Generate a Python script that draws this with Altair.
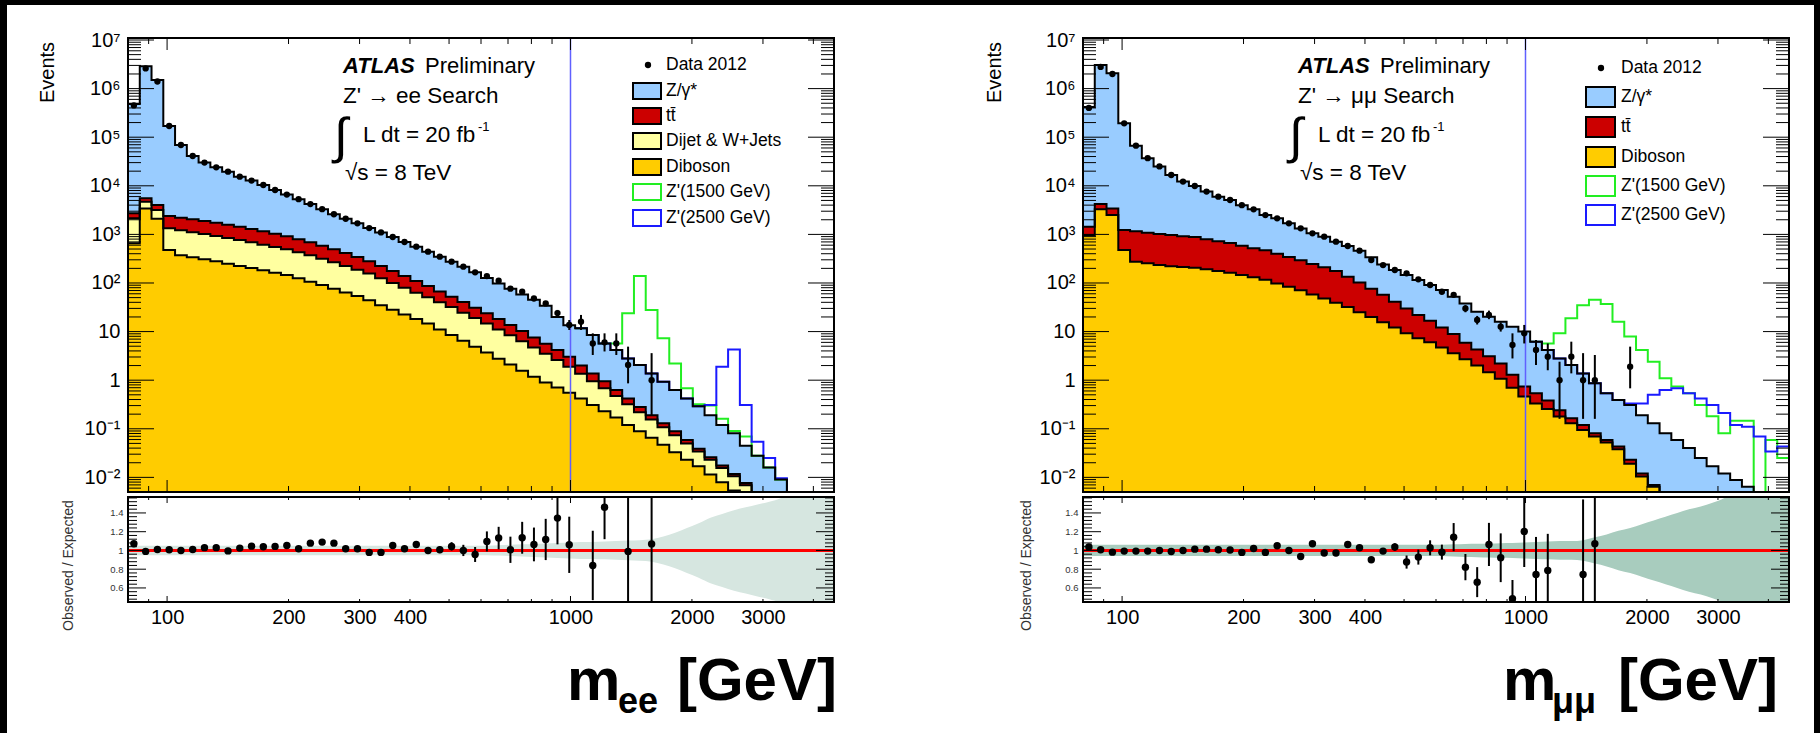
import math
import altair as alt
import pandas as pd

# ---------------- binning (60 log-uniform bins, 80-4500 GeV) ----------------
bin_edges = [80.0, 85.56, 91.50, 97.86, 104.65, 111.92, 119.70, 128.01, 136.91, 146.42,
             156.59, 167.47, 179.10, 191.54, 204.85, 219.08, 234.30, 250.58, 267.99, 286.61,
             306.52, 327.81, 350.58, 374.94, 400.99, 428.84, 458.63, 490.50, 524.57, 561.01,
             600.0, 641.7, 686.3, 733.9, 784.9, 839.4, 897.7, 960.1, 1026.8, 1098.1,
             1174.4, 1256.0, 1343.2, 1436.6, 1536.4, 1643.1, 1757.3, 1879.4, 2009.9, 2149.6,
             2298.9, 2458.6, 2629.4, 2812.1, 3007.4, 3216.3, 3439.8, 3678.8, 3934.4, 4207.7,
             4500.0]

# ---------------- ee channel (stack boundaries) ----------------
ee_total = [4.8e5, 2.9e6, 1.5e6, 1.7e5, 6.9e4, 4.1e4, 3.0e4, 2.4e4, 1.95e4, 1.54e4,
            1.28e4, 1.04e4, 8.2e3, 6.6e3, 5.3e3, 4.2e3, 3.3e3, 2.6e3, 2.1e3, 1.69e3,
            1350, 1100, 883, 697, 558, 441, 348, 275, 217, 166,
            127, 98, 76, 58, 45, 34, 20, 13.5, 11.7, 8.5,
            5.7, 4.2, 2.8, 2.05, 1.38, 0.93, 0.63, 0.42, 0.29, 0.19,
            0.12, 0.081, 0.045, 0.028, 0.016, 0.009, 0.004, 0.003, 0.002, 0.0015]
ee_ttbar_top = [2710, 5520, 4030, 2390, 2210, 2040, 1885, 1742, 1585, 1442,
                1291, 1156, 1035, 912, 791, 687, 586, 493, 414, 343,
                279, 224, 177, 139, 110, 87, 67, 52, 40.6, 31.1,
                23.8, 18.2, 13.7, 10.3, 7.6, 5.6, 4.2, 3.05, 2.0, 1.38,
                0.95, 0.63, 0.42, 0.28, 0.19, 0.13, 0.089, 0.059, 0.039, 0.026,
                0.0175, 0.0118, 0.0077, 0.005, 0.0033, 0.0022, 0.0015, 0.001, 0.0007, 0.0005]
ee_dijet_top = [2140, 4710, 3170, 1333, 1212, 1103, 1019, 927, 844, 768,
                687, 615, 551, 493, 428, 371, 317, 266, 224, 188,
                156, 125, 100, 80, 63, 51, 40, 32, 24.5, 19.0,
                14.6, 11.1, 8.4, 6.3, 4.7, 3.5, 2.6, 1.9, 1.35, 0.95,
                0.68, 0.47, 0.32, 0.22, 0.155, 0.107, 0.074, 0.050, 0.034, 0.023,
                0.0155, 0.0105, 0.0069, 0.0046, 0.003, 0.002, 0.0014, 0.001, 0.0007, 0.0005]
ee_diboson_top = [656, 3400, 2100, 477, 371, 337, 307, 279, 250, 224,
                  204, 182, 163, 146, 125, 106, 91, 76, 64, 54,
                  44, 35, 28, 22.6, 18.2, 14.6, 11.1, 8.5, 6.5, 4.9,
                  3.7, 2.77, 2.09, 1.57, 1.18, 0.90, 0.71, 0.55, 0.42, 0.31,
                  0.23, 0.17, 0.12, 0.089, 0.065, 0.047, 0.033, 0.023, 0.017, 0.0115,
                  0.0079, 0.0054, 0.0035, 0.0024, 0.0016, 0.0011, 0.0008, 0.0006, 0.0004, 0.0003]
ee_data = [4.5e5, 2.6e6, 1.4e6, 1.7e5, 6.9e4, 4.1e4, 3.0e4, 2.4e4, 1.95e4, 1.54e4,
           1.28e4, 1.04e4, 8.2e3, 6.6e3, 5.3e3, 4.2e3, 3.3e3, 2.6e3, 2.1e3, 1.69e3,
           1350, 1100, 883, 697, 558, 441, 348, 275, 217, 166,
           139, 111, 76.5, 66, 48, 38, 24, 13.7, 16, 5.7,
           6.0, 5.7, 2.05, None, 1.0, None, None, None, None, None,
           None, None, None, None, None, None, None, None, None, None]
ee_err_bins = [36, 37, 38, 39, 40, 41, 42, 44]
ee_err_lo = [19.7, 10.8, 10.8, 3.3, 3.9, 3.3, 0.86, 0.19]
ee_err_hi = [27.9, 17.3, 22.0, 9.2, 9.2, 9.2, 4.9, 3.6]
sig_start = 38
ee_z1500 = [11.7, 8.5, 5.7, 5.7, 23.8, 139, 27.8, 7.3, 2.2, 0.68, 0.32, 0.30, 0.16, 0.09,
            0.069, 0.028, 0.016, 0.009, 0.004, 0.003, 0.002, 0.0015]
ee_z2500 = [11.7, 8.5, 5.7, 4.2, 2.8, 2.05, 1.38, 0.93, 0.63, 0.42, 0.29, 0.31, 1.9, 4.3,
            0.31, 0.054, 0.025, 0.0096, 0.004, 0.003, 0.002, 0.0015]
ee_ratio_bins = list(range(38)) + [39, 40, 42, 44]
ee_ratio = [1.071, 0.99, 1.01, 1.007, 1.0, 1.01, 1.03, 1.03, 0.995, 1.025,
            1.046, 1.04, 1.043, 1.053, 1.018, 1.078, 1.089, 1.078, 1.018, 1.018,
            0.979, 0.979, 1.053, 1.018, 1.064, 1.0, 1.007, 1.043, 1.0, 0.957,
            1.096, 1.132, 1.007, 1.135, 1.064, 1.117, 1.345, 1.06,
            0.84, 1.46, 0.99, 1.07]
ee_ratio_err = [0.012, 0.012, 0.012, 0.012, 0.012, 0.012, 0.012, 0.012, 0.012, 0.012,
                0.012, 0.012, 0.012, 0.012, 0.012, 0.012, 0.012, 0.012, 0.012, 0.012,
                0.02, 0.02, 0.02, 0.02, 0.025, 0.03, 0.035, 0.045, 0.06, 0.08,
                0.107, 0.12, 0.14, 0.17, 0.18, 0.22, 0.28, 0.30,
                0.37, 0.34, 0.9, 0.9]
ee_band = [0.05, 0.05, 0.05, 0.05, 0.05, 0.05, 0.05, 0.05, 0.05, 0.05,
           0.05, 0.05, 0.05, 0.05, 0.05, 0.05, 0.05, 0.05, 0.05, 0.05,
           0.05, 0.05, 0.05, 0.05, 0.05, 0.05, 0.05, 0.05, 0.05, 0.05,
           0.05, 0.055, 0.06, 0.065, 0.07, 0.075, 0.08, 0.085, 0.09, 0.09,
           0.095, 0.10, 0.105, 0.11, 0.12, 0.15, 0.19, 0.24, 0.29, 0.35,
           0.39, 0.43, 0.46, 0.49, 0.52, 0.56, 0.65, 0.65, 0.65, 0.65]

# ---------------- mumu channel ----------------
mm_total = [4.2e5, 3.06e6, 2.06e6, 1.93e5, 6.7e4, 3.7e4, 2.5e4, 1.67e4, 1.22e4, 9.9e3,
            7.6e3, 5.97e3, 5.1e3, 4.0e3, 3.28e3, 2.5e3, 2.14e3, 1.69e3, 1.33e3, 1.05e3,
            898, 709, 577, 462, 340, 240, 185, 146, 115, 91,
            72, 52, 38, 25.7, 20.3, 16, 12.6, 10, 6.2, 4.2,
            2.8, 2.05, 1.38, 0.86, 0.54, 0.39, 0.31, 0.19, 0.13, 0.081,
            0.059, 0.040, 0.025, 0.017, 0.012, 0.0088, 0.0064, 0.0045, 0.003, 0.002]
mm_ttbar_top = [1440, 4200, 3400, 1230, 1157, 1086, 1019, 972, 912, 885,
                792, 720, 665, 586, 516, 470, 402, 343, 292, 246,
                210, 177, 135, 102, 76, 57, 41, 30, 22, 16.8,
                12.1, 8.9, 5.9, 4.3, 3.1, 2.2, 1.30, 0.74, 0.54, 0.38,
                0.24, 0.164, 0.12, 0.081, 0.059, 0.043, 0.023, 0.012, 0.007, 0.0045,
                0.003, 0.002, 0.0014, 0.001, 0.0007, 0.0005, 0.0004, 0.0003, 0.0002, 0.0002]
mm_diboson_top = [973, 3300, 2500, 477, 275, 254, 234, 221, 213, 207,
                  191, 177, 163, 146, 131, 117, 98, 84, 71, 58,
                  48, 39, 32, 25, 20, 15.5, 12.1, 9.2, 7.3, 6.0,
                  4.7, 3.6, 2.7, 2.0, 1.45, 1.07, 0.70, 0.46, 0.33, 0.255,
                  0.178, 0.13, 0.094, 0.069, 0.052, 0.038, 0.019, 0.0104, 0.0064, 0.004,
                  0.0027, 0.0018, 0.0012, 0.0008, 0.0006, 0.0004, 0.0003, 0.0002, 0.0002, 0.0001]
mm_data = [4.0e5, 2.8e6, 2.0e6, 1.93e5, 6.7e4, 3.7e4, 2.5e4, 1.67e4, 1.22e4, 9.9e3,
           7.6e3, 5.97e3, 5.1e3, 4.0e3, 3.28e3, 2.5e3, 2.14e3, 1.69e3, 1.33e3, 1.05e3,
           898, 709, 577, 462, 297, 234, 185, 158, 119, 91,
           66, 57, 30, 17.3, 22, 12.6, 5.3, 9.2, 4.2, 3.05,
           1.0, 3.05, 1.0, 1.0, None, None, 1.9, None, None, None,
           None, None, None, None, None, None, None, None, None, None]
mm_err_bins = [32, 33, 34, 35, 36, 37, 38, 39, 40, 41, 42, 43, 46]
mm_err_lo = [25, 14, 18, 10, 2.8, 5.7, 2.05, 1.6, 0.16, 1.38, 0.16, 0.16, 0.68]
mm_err_hi = [35, 21, 27, 15.5, 9.2, 13.7, 6.7, 5.7, 2.4, 6.2, 3.6, 3.3, 4.9]
mm_z1500 = [6.2, 5.7, 9.2, 18.7, 35, 45, 37, 16, 7.9, 4.2, 2.4, 1.09, 0.74, 0.54,
            0.31, 0.18, 0.081, 0.147, 0.147, 0.003, 0.059, 0.025]
mm_z2500 = [6.2, 4.2, 2.8, 2.05, 1.38, 0.86, 0.54, 0.39, 0.33, 0.33, 0.50, 0.63, 0.68, 0.54,
            0.42, 0.31, 0.21, 0.12, 0.11, 0.069, 0.034, 0.043]
mm_ratio_bins = list(range(40)) + [42, 43]
mm_ratio = [1.036, 1.007, 0.982, 0.993, 0.993, 0.993, 1.0, 0.989, 1.0, 1.014,
            1.014, 1.007, 1.004, 0.979, 1.021, 0.979, 1.05, 1.0, 0.936, 1.071,
            0.972, 0.972, 1.064, 1.028, 0.90, 0.993, 1.036, 0.876, 0.929, 1.028,
            0.982, 1.142, 0.822, 0.662, 1.064, 0.922, 0.485, 1.203, 0.744, 0.787,
            0.744, 1.071]
mm_ratio_err = [0.012, 0.012, 0.012, 0.012, 0.012, 0.012, 0.012, 0.012, 0.012, 0.012,
                0.012, 0.012, 0.012, 0.012, 0.012, 0.012, 0.012, 0.012, 0.012, 0.012,
                0.012, 0.02, 0.02, 0.02, 0.03, 0.03, 0.04, 0.07, 0.08, 0.08,
                0.08, 0.15, 0.14, 0.16, 0.23, 0.26, 0.2, 0.38, 0.4, 0.39,
                0.8, 0.9]
mm_band = [0.06, 0.06, 0.06, 0.06, 0.06, 0.06, 0.06, 0.06, 0.06, 0.06,
           0.06, 0.06, 0.06, 0.06, 0.06, 0.06, 0.06, 0.06, 0.06, 0.06,
           0.06, 0.06, 0.06, 0.06, 0.06, 0.06, 0.06, 0.06, 0.06, 0.06,
           0.06, 0.065, 0.07, 0.072, 0.075, 0.078, 0.08, 0.085, 0.09, 0.095,
           0.10, 0.10, 0.11, 0.14, 0.17, 0.21, 0.24, 0.28, 0.32, 0.36,
           0.40, 0.44, 0.47, 0.51, 0.56, 0.65, 0.65, 0.65, 0.65, 0.65]

# ---------------- axis ticks / labels ----------------
y_tick_values = [0.01, 0.1, 1, 10, 100, 1e3, 1e4, 1e5, 1e6, 1e7]
y_tick_labels = ["10\u207b\u00b2", "10\u207b\u00b9", "1", "10", "10\u00b2", "10\u00b3",
                 "10\u2074", "10\u2075", "10\u2076", "10\u2077"]
y_minor = [k * 10.0 ** d for d in range(-3, 7) for k in range(2, 10) if 0.0051 < k * 10.0 ** d < 1.1e7]
x_label_values = [100, 200, 300, 400, 1000, 2000, 3000]
x_major = [100, 1000]
x_minor = [90, 200, 300, 400, 500, 600, 700, 800, 900, 2000, 3000, 4000]
r_major = [0.6, 0.8, 1.0, 1.2, 1.4]
r_minor = [0.48, 0.52, 0.56, 0.64, 0.68, 0.72, 0.76, 0.84, 0.88, 0.92, 0.96, 1.04, 1.08,
           1.12, 1.16, 1.24, 1.28, 1.32, 1.36, 1.44, 1.48, 1.52, 1.56]

W, HM, HR = 706, 454, 105
FONT = "Liberation Sans"
C_DY, C_TT, C_DJ, C_DB = "#99ccff", "#cc0000", "#ffffa0", "#ffcc00"
C_G, C_B = "#22ee22", "#1a1aff"

centers = [math.sqrt(bin_edges[i] * bin_edges[i + 1]) for i in range(60)]

x_scale = alt.Scale(type="log", domain=[80, 4500], nice=False)
y_scale = alt.Scale(type="log", domain=[0.005, 1.1e7], nice=False)
r_scale = alt.Scale(type="linear", domain=[0.45, 1.57], nice=False, zero=False)

one = pd.DataFrame({"a": [0]})


def step_frame(vals, start=0):
    xs = bin_edges[start:]
    ys = list(vals) + [vals[-1]]
    return pd.DataFrame({"x": xs, "y": ys, "base": [1e-6] * len(xs)})


def vtext(s, x, y, size, weight="normal", style="normal", align="left",
          baseline="alphabetic", color="black"):
    return alt.Chart(one).mark_text(text=s, fontSize=size, fontWeight=weight, fontStyle=style,
                                    align=align, baseline=baseline, color=color, font=FONT
                                    ).encode(x=alt.value(x), y=alt.value(y))


lab_expr = "[" + ",".join("'%s'" % s for s in y_tick_labels) + "][round(log(datum.value)/LN10)+2]"


def main_axis(tx):
    return alt.Axis(values=y_tick_values, labelExpr=lab_expr, ticks=False, domain=False, grid=False,
                    labelFontSize=20, labelPadding=8, labelColor="black", labelFlush=False,
                    labelOverlap=False, title="Events", titleFontSize=20, titleFontWeight="normal",
                    titleColor="black", titleAngle=270, titleX=tx, titleY=34, titleAlign="center",
                    titleBaseline="middle", zindex=1)


def ratio_axis(tx):
    return alt.Axis(values=r_major, labelExpr="datum.value == 1 ? '1' : format(datum.value, '.1f')",
                    ticks=False, domain=False, grid=False, labelFontSize=9.5, labelPadding=5,
                    labelColor="#333333", labelFlush=False, labelOverlap=False,
                    title="Observed / Expected", titleFontSize=14, titleFontWeight="normal",
                    titleColor="#333333", titleAngle=270, titleX=tx, titleY=68, titleAlign="center",
                    titleBaseline="middle", zindex=1)


ratio_x_axis = alt.Axis(values=x_label_values, format="d", ticks=False, domain=False, grid=False,
                        labelFontSize=20, labelPadding=5, labelColor="black", labelFlush=False,
                        labelOverlap=False, title=None, zindex=1)


def frame(h):
    return alt.Chart(one).mark_rect(fillOpacity=0, stroke="black", strokeWidth=2).encode(
        x=alt.value(0), x2=alt.value(W), y=alt.value(0), y2=alt.value(h))


def y_ticks(vals, length, right, ych):
    x0 = W - length if right else 0
    return alt.Chart(pd.DataFrame({"v": vals})).mark_rule(color="black", strokeWidth=1).encode(
        y=ych("v"), x=alt.value(x0), x2=alt.value(x0 + length))


def x_ticks(vals, length, bottom, h, xaxis):
    y0 = h - length if bottom else 0
    return alt.Chart(pd.DataFrame({"v": vals})).mark_rule(color="black", strokeWidth=1).encode(
        x=alt.X("v", type="quantitative", scale=x_scale, axis=xaxis),
        y=alt.value(y0), y2=alt.value(y0 + length))


def main_panel(c):
    X = alt.X("x", type="quantitative", scale=x_scale, axis=None)
    yax = main_axis(c["events_x"])

    def Y(f):
        return alt.Y(f, type="quantitative", scale=y_scale, axis=yax)

    layers = []
    if c["backdrop"]:
        layers.append(alt.Chart(one).mark_rect(color="white").encode(
            x=alt.value(-121), x2=alt.value(1686), y=alt.value(-33), y2=alt.value(695)))
    for vals, col in c["fills"]:
        layers.append(alt.Chart(step_frame(vals)).mark_area(
            interpolate="step-after", color=col, opacity=1, clip=True).encode(
            x=X, y=Y("y"), y2=alt.Y2("base")))
    for vals, col in c["signals"]:
        layers.append(alt.Chart(step_frame(vals, sig_start)).mark_line(
            interpolate="step-after", color=col, strokeWidth=2, clip=True).encode(x=X, y=Y("y")))
    for vals in c["outlines"]:
        layers.append(alt.Chart(step_frame(vals)).mark_line(
            interpolate="step-after", color="black", strokeWidth=2, clip=True).encode(x=X, y=Y("y")))
    layers.append(alt.Chart(pd.DataFrame({"x": [1000]})).mark_rule(
        color="#6060ff", strokeWidth=1.5).encode(x=X))
    eb = pd.DataFrame({"x": [centers[b] for b in c["err_bins"]], "lo": c["err_lo"], "hi": c["err_hi"]})
    layers.append(alt.Chart(eb).mark_rule(color="black", strokeWidth=2, clip=True).encode(
        x=X, y=Y("lo"), y2=alt.Y2("hi")))
    pts = pd.DataFrame({"x": [centers[i] for i, v in enumerate(c["data"]) if v is not None],
                        "y": [v for v in c["data"] if v is not None]})
    layers.append(alt.Chart(pts).mark_point(shape="circle", filled=True, size=40, color="black",
                                            opacity=1, clip=True).encode(x=X, y=Y("y")))
    layers.append(frame(HM))
    layers += [y_ticks(y_tick_values, 26, False, Y), y_ticks(y_minor, 13, False, Y),
               y_ticks(y_tick_values, 26, True, Y), y_ticks(y_minor, 13, True, Y),
               x_ticks(x_major, 12, False, HM, None), x_ticks(x_minor, 6, False, HM, None),
               x_ticks(x_major, 12, True, HM, None), x_ticks(x_minor, 6, True, HM, None)]
    # legend
    lg = c["legend"]
    px, py = lg["pt"]
    layers.append(alt.Chart(one).mark_point(shape="circle", filled=True, size=40, color="black",
                                            opacity=1).encode(x=alt.value(px), y=alt.value(py)))
    layers.append(vtext("Data 2012", lg["tx"], py, 17.5, baseline="middle"))
    for lab, yc, f, s in zip(lg["labels"], lg["rows"], lg["fills"], lg["strokes"]):
        layers.append(alt.Chart(one).mark_rect(fill=f, stroke=s, strokeWidth=2).encode(
            x=alt.value(lg["bx"][0]), x2=alt.value(lg["bx"][1]),
            y=alt.value(yc - lg["bh"] / 2), y2=alt.value(yc + lg["bh"] / 2)))
        layers.append(vtext(lab, lg["tx"], yc, 17.5, baseline="middle"))
    # ATLAS label block
    layers += [vtext("ATLAS", 215, 35, 22, weight="bold", style="italic"),
               vtext("Preliminary", 297, 35, 22),
               vtext(c["search"], 215, 65, 22.5),
               vtext("\u222b", 206, 115, 50),
               vtext("L dt = 20 fb", 235, 104, 22.5),
               vtext("-1", 350, 93, 13),
               vtext("\u221as = 8 TeV", 217, 142, 22.5)]
    return alt.layer(*layers).properties(width=W, height=HM)


def ratio_panel(c):
    X = alt.X("x", type="quantitative", scale=x_scale, axis=ratio_x_axis)
    rax = ratio_axis(c["ratio_title_x"])

    def Y(f):
        return alt.Y(f, type="quantitative", scale=r_scale, axis=rax)

    bx = [bin_edges[0]] + centers + [bin_edges[60]]
    bh = [c["band"][0]] + list(c["band"]) + [c["band"][-1]]
    band = pd.DataFrame({"x": bx, "hi": [1 + b for b in bh], "lo": [1 - b for b in bh]})
    rb = c["ratio_bins"]
    rd = pd.DataFrame({"x": [centers[b] for b in rb], "r": c["ratio"],
                       "lo": [r - e for r, e in zip(c["ratio"], c["ratio_err"])],
                       "hi": [r + e for r, e in zip(c["ratio"], c["ratio_err"])]})
    layers = [
        alt.Chart(band).mark_area(interpolate="monotone", color=c["band_color"], opacity=1,
                                  clip=True).encode(x=X, y=Y("hi"), y2=alt.Y2("lo")),
        alt.Chart(pd.DataFrame({"r": [1.0]})).mark_rule(color="#ff0000", strokeWidth=3).encode(y=Y("r")),
        alt.Chart(rd).mark_rule(color="black", strokeWidth=2, clip=True).encode(
            x=X, y=Y("lo"), y2=alt.Y2("hi")),
        alt.Chart(rd).mark_point(shape="circle", filled=True, size=55, color="black", opacity=1,
                                 clip=True).encode(x=X, y=Y("r")),
        frame(HR),
        y_ticks(r_major, 18, False, Y), y_ticks(r_minor, 9, False, Y),
        y_ticks(r_major, 18, True, Y), y_ticks(r_minor, 9, True, Y),
        x_ticks(x_major, 6, False, HR, ratio_x_axis), x_ticks(x_minor, 3, False, HR, ratio_x_axis),
        x_ticks(x_major, 6, True, HR, ratio_x_axis), x_ticks(x_minor, 3, True, HR, ratio_x_axis),
    ]
    t = c["xtitle"]
    layers += [vtext("m", t["m"], 203, 60, weight="bold"),
               vtext(t["sub"], t["sx"], 216, 36, weight="bold"),
               vtext("[GeV]", t["end"], 203, 60, weight="bold", align="right")]
    return alt.layer(*layers).properties(width=W, height=HR)


ee_cfg = dict(
    backdrop=True, events_x=-81, ratio_title_x=-60,
    fills=[(ee_total, C_DY), (ee_ttbar_top, C_TT), (ee_dijet_top, C_DJ), (ee_diboson_top, C_DB)],
    signals=[(ee_z1500, C_G), (ee_z2500, C_B)],
    outlines=[ee_total, ee_ttbar_top, ee_dijet_top, ee_diboson_top],
    data=ee_data, err_bins=ee_err_bins, err_lo=ee_err_lo, err_hi=ee_err_hi,
    search="Z' \u2192 ee Search",
    legend=dict(pt=(520, 27), tx=538, rows=[53, 78, 103, 129, 154, 180], bx=(505, 533), bh=16,
                labels=["Z/\u03b3*", "tt\u0304", "Dijet & W+Jets", "Diboson", "Z'(1500 GeV)", "Z'(2500 GeV)"],
                fills=[C_DY, C_TT, C_DJ, C_DB, "white", "white"],
                strokes=["black", "black", "black", "black", C_G, C_B]),
    band=ee_band, band_color="#d6e6e0", ratio_bins=ee_ratio_bins, ratio=ee_ratio,
    ratio_err=ee_ratio_err,
    xtitle=dict(m=439, sub="ee", sx=490, end=709),
)

mm_cfg = dict(
    backdrop=False, events_x=-89, ratio_title_x=-57,
    fills=[(mm_total, C_DY), (mm_ttbar_top, C_TT), (mm_diboson_top, C_DB)],
    signals=[(mm_z1500, C_G), (mm_z2500, C_B)],
    outlines=[mm_total, mm_ttbar_top, mm_diboson_top],
    data=mm_data, err_bins=mm_err_bins, err_lo=mm_err_lo, err_hi=mm_err_hi,
    search="Z' \u2192 \u03bc\u03bc Search",
    legend=dict(pt=(518, 30), tx=538, rows=[59, 89, 119, 148, 177], bx=(503, 532), bh=20,
                labels=["Z/\u03b3*", "tt\u0304", "Diboson", "Z'(1500 GeV)", "Z'(2500 GeV)"],
                fills=[C_DY, C_TT, C_DB, "white", "white"],
                strokes=["black", "black", "black", C_G, C_B]),
    band=mm_band, band_color="#a8ccbe", ratio_bins=mm_ratio_bins, ratio=mm_ratio,
    ratio_err=mm_ratio_err,
    xtitle=dict(m=420, sub="\u03bc\u03bc", sx=469, end=695),
)

chart = alt.concat(
    main_panel(ee_cfg), main_panel(mm_cfg), ratio_panel(ee_cfg), ratio_panel(mm_cfg),
    columns=2, spacing=alt.RowColnumber(row=5, column=249), bounds="flush",
).resolve_scale(
    x="independent", y="independent"
).configure(background="black", font=FONT).configure_view(stroke=None).properties(
    padding={"left": 7, "top": 5, "right": 6, "bottom": 0}
)

chart.save("out.html", embed_options={"renderer": "svg", "actions": False})
